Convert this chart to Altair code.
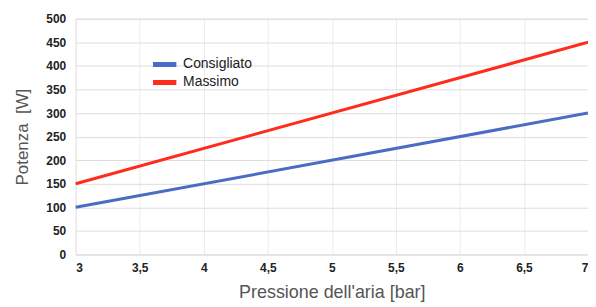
import altair as alt
import pandas as pd

pressure = [3, 7]
consigliato = [100, 300]
massimo = [150, 450]
series_names = ["Consigliato", "Massimo"]
colors = ["#4a6cc4", "#ff2b1c"]

rows = []
for p, c, m in zip(pressure, consigliato, massimo):
    rows.append({"p": p, "v": c, "s": series_names[0]})
    rows.append({"p": p, "v": m, "s": series_names[1]})
df = pd.DataFrame(rows)

chart = alt.Chart(df).mark_line(strokeWidth=3).encode(
    x=alt.X("p:Q", scale=alt.Scale(domain=[3, 7], nice=False),
            axis=alt.Axis(values=[3, 3.5, 4, 4.5, 5, 5.5, 6, 6.5, 7],
                          labelExpr="replace(format(datum.value, '.1~f'), '.', ',')",
                          title="Pressione dell'aria [bar]", labelPadding=8, titlePadding=10,
                          titleFontSize=18,
                          ticks=False, domain=False, grid=True, gridColor="#ececec")),
    y=alt.Y("v:Q", scale=alt.Scale(domain=[0, 500], nice=False),
            axis=alt.Axis(values=list(range(0, 501, 50)), title="Potenza\u00a0\u00a0[W]",
                          labelPadding=10, titlePadding=14, titleFontSize=17,
                          ticks=False, domain=False,
                          grid=True, gridColor="#dddddd")),
    color=alt.Color("s:N", scale=alt.Scale(domain=series_names, range=colors),
                    legend=alt.Legend(title=None, orient="none", legendX=75, legendY=38,
                                      symbolType="stroke", symbolStrokeWidth=5,
                                      symbolSize=550, clipHeight=16,
                                      labelFontSize=14, labelColor="#222",
                                      rowPadding=2, labelOffset=4,
                                      labelFont="Liberation Sans")),
).properties(
    width=515, height=237,
    autosize=alt.AutoSizeParams(type="none"),
    padding={"left": 68, "top": 10, "right": 0, "bottom": 52},
).configure_view(stroke="#dddddd").configure_axis(
    labelFont="Liberation Sans", titleFont="Liberation Sans",
    labelFontSize=12, labelColor="#222", labelFontWeight="bold",
    titleColor="#555", titleFontWeight="normal",
)

chart.save("out.html", embed_options={"renderer": "svg", "actions": False})
